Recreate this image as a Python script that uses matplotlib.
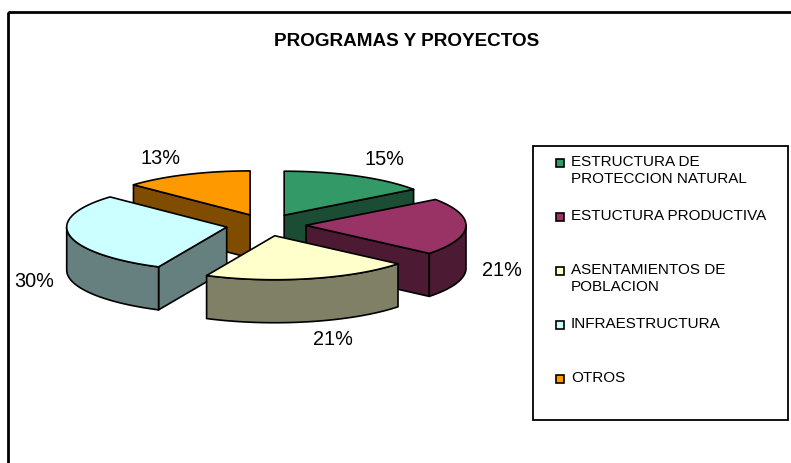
import numpy as np
import matplotlib
matplotlib.use('Agg')
import matplotlib.pyplot as plt
from matplotlib.patches import Polygon, Rectangle
from matplotlib.colors import to_rgb

plt.rcParams['font.family'] = ['Liberation Sans', 'DejaVu Sans']

title = 'PROGRAMAS Y PROYECTOS'
labels = ['ESTRUCTURA DE\nPROTECCION NATURAL', 'ESTUCTURA PRODUCTIVA',
          'ASENTAMIENTOS DE\nPOBLACION', 'INFRAESTRUCTURA', 'OTROS']
values = [15, 21, 21, 30, 13]
colors = ['#339966', '#993366', '#FFFFCC', '#CCFFFF', '#FF9900']

W, H = 791, 463
fig = plt.figure(figsize=(W / 100, H / 100), dpi=100)
ax = fig.add_axes([0, 0, 1, 1])
ax.set_xlim(0, W)
ax.set_ylim(H, 0)
ax.axis('off')

# outer chart frame (cut off at right and bottom like the original)
ax.add_patch(Rectangle((8, 12), W + 20, H + 20, fill=False, ec='black', lw=2.0, zorder=1))

ax.text(407, 42, title, ha='center', va='center', fontsize=13.6, fontweight='bold')

# 3d pie geometry (screen pixels)
cx, cy = 266, 225
R, r = 160, 44        # ellipse radii of the top face
T = 43                # thickness
D = 40                # explode distance
tilt = r / R

fracs = np.array(values) / sum(values)
ends = np.cumsum(fracs) * 360
starts = ends - fracs * 360
mids = (starts + ends) / 2


def pt(ox, oy, th, z=0):
    t = np.radians(th)
    return ox + R * np.sin(t), oy - r * np.cos(t) + z


def arc(ox, oy, a, b, z=0):
    ths = np.linspace(a, b, max(int(abs(b - a)), 2) + 1)
    return [pt(ox, oy, th, z) for th in ths]


# back to front
order = np.argsort(-np.cos(np.radians(mids)))
for i in order:
    a, b, m = starts[i], ends[i], mids[i]
    mr = np.radians(m)
    ox = cx + D * np.sin(mr)
    oy = cy - D * tilt * np.cos(mr)
    top = colors[i]
    side = tuple(np.array(to_rgb(top)) * 0.5)
    faces = []
    if np.sin(np.radians(a)) < -1e-6:
        p = pt(ox, oy, a)
        faces.append([(ox, oy), p, (p[0], p[1] + T), (ox, oy + T)])
    if np.sin(np.radians(b)) > 1e-6:
        p = pt(ox, oy, b)
        faces.append([(ox, oy), p, (p[0], p[1] + T), (ox, oy + T)])
    lo, hi = max(a, 90), min(b, 270)
    if hi > lo:
        faces.append(arc(ox, oy, lo, hi) + arc(ox, oy, hi, lo, T))
    for f in faces:
        ax.add_patch(Polygon(f, closed=True, fc=side, ec='black', lw=1.2, joinstyle='round', zorder=2))
    ax.add_patch(Polygon([(ox, oy)] + arc(ox, oy, a, b), closed=True, fc=top, ec='black',
                         lw=1.2, joinstyle='round', zorder=2))

    # percentage label
    s, c = np.sin(mr), np.cos(mr)
    lx = ox + 176 * s
    ly = oy - 62 * c + (T if c < 0 else 0)
    ax.text(lx, ly, '%d%%' % values[i], ha='left' if s > 0 else 'right', va='center',
            fontsize=14.3, zorder=3)

# legend
ax.add_patch(Rectangle((533, 146), 255, 274, fill=False, ec='black', lw=1.3, zorder=3))
for i, lab in enumerate(labels):
    y = 163 + 54 * i
    ax.add_patch(Rectangle((556, y - 4), 8, 8, fc=colors[i], ec='black', lw=1.2, zorder=4))
    ax.text(571, y - 8.5, lab, ha='left', va='top', fontsize=11, linespacing=1.3, zorder=4)

fig.savefig('out.png', dpi=100)
